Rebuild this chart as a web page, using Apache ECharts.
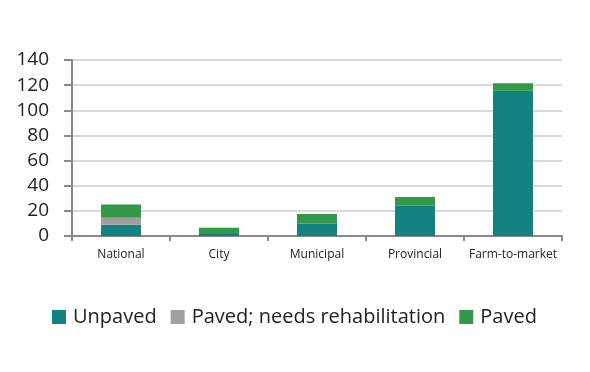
<!DOCTYPE html>
<html><head><meta charset="utf-8">
<script src="https://cdn.jsdelivr.net/npm/echarts@6/dist/echarts.min.js"></script>
<style>html,body{margin:0;padding:0;background:#fff}#c{width:590px;height:372px}</style>
</head><body><div id="c"></div>
<script>
const categories = ["National", "City", "Municipal", "Provincial", "Farm-to-market"];
const unpaved = [9, 1.5, 10, 24, 115.5];
const pavedRehab = [5.5, 0, 0, 0, 0];
const paved = [10.5, 5, 7.5, 7, 6];
const yTicks = [0, 20, 40, 60, 80, 100, 120, 140];
const seriesNames = ["Unpaved", "Paved; needs rehabilitation", "Paved"];
const colors = ["#158282", "#a0a0a0", "#33984a"];

const chart = echarts.init(document.getElementById('c'), null, {renderer: 'canvas'});
const font = "'Open Sans', 'Noto Sans', sans-serif";
chart.setOption({
  animation: false,
  color: colors,
  grid: {left: 72, right: 28, top: 60, bottom: 136, containLabel: false},
  legend: {
    top: 302, left: 47,
    itemWidth: 14, itemHeight: 14, itemGap: 14,
    icon: 'rect',
    textStyle: {fontSize: 20, color: '#222', fontFamily: font, padding: [0, 0, 0, 2]},
    data: seriesNames
  },
  xAxis: {
    type: 'category', data: categories,
    axisLine: {lineStyle: {color: '#888', width: 2}},
    axisTick: {show: true, length: 5, lineStyle: {color: '#888', width: 2}},
    axisLabel: {fontSize: 12, color: '#222', margin: 13, interval: 0, fontFamily: font}
  },
  yAxis: {
    type: 'value', min: yTicks[0], max: yTicks[yTicks.length - 1], interval: 20,
    axisLine: {show: true, lineStyle: {color: '#888', width: 2}},
    axisTick: {show: true, inside: false, length: 8, lineStyle: {color: '#888', width: 2}},
    splitLine: {lineStyle: {color: '#d9d9d9', width: 2}},
    axisLabel: {fontSize: 19, color: '#222', margin: 23, fontFamily: font}
  },
  series: [
    {name: seriesNames[0], type: 'bar', stack: 's', data: unpaved, barWidth: 40},
    {name: seriesNames[1], type: 'bar', stack: 's', data: pavedRehab, barWidth: 40},
    {name: seriesNames[2], type: 'bar', stack: 's', data: paved, barWidth: 40}
  ]
});
</script></body></html>
